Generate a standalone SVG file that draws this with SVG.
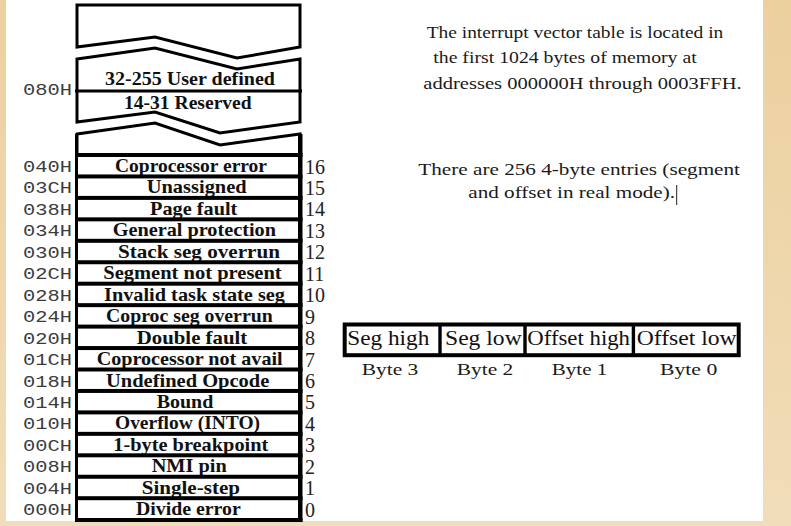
<svg xmlns="http://www.w3.org/2000/svg" width="791" height="526" viewBox="0 0 791 526">
<defs>
<linearGradient id="beige" x1="0" y1="0" x2="0" y2="1">
<stop offset="0" stop-color="#ecd09e"/>
<stop offset="1" stop-color="#f1ddb9"/>
</linearGradient>
<style>
.addr{font-family:"Liberation Mono",monospace;font-size:17px;fill:#3c3c3c}
.lbl{font-family:"Liberation Serif",serif;font-weight:bold;font-size:19px;fill:#111}
.num{font-family:"Liberation Serif",serif;font-size:20px;fill:#222}
.txt{font-family:"Liberation Serif",serif;font-size:17px;fill:#1a1a1a}
.cell{font-family:"Liberation Serif",serif;font-size:20px;fill:#111}
.zig{fill:#fff;stroke:#000;stroke-width:3;stroke-linejoin:miter}
.bar{fill:#000}
</style>
</defs>
<rect x="0" y="0" width="791" height="526" fill="url(#beige)"/>
<rect x="6" y="0" width="757" height="521" fill="#fff"/>

<g id="frame">
<path class="zig" stroke-width="4" d="M77,47 L77,5 L300,5 L300,47 L237,58 L155,37 Z"/>
<path class="zig" d="M77,59 L155,48 L237,69 L300,59 L300,122 L220,133 L155,112 L77,122 Z"/>
<rect x="75" y="89.5" width="227" height="3" class="bar"/>
<path class="zig" d="M77,134 L155,123 L220,145 L300,134 L300,155 L77,155 Z"/>
<rect x="75" y="134" width="3" height="388" class="bar"/>
<rect x="298" y="134" width="4.5" height="388" class="bar"/>
</g>

<g id="upper">
<text class="addr" x="23" y="95" textLength="49" lengthAdjust="spacingAndGlyphs">080H</text>
<text class="lbl" x="105" y="85" textLength="170" lengthAdjust="spacingAndGlyphs">32-255 User defined</text>
<text class="lbl" x="124" y="109.3" textLength="127.7" lengthAdjust="spacingAndGlyphs">14-31 Reserved</text>
</g>

<g id="r16"><text class="addr" x="23" y="172" textLength="49" lengthAdjust="spacingAndGlyphs">040H</text><text class="lbl" x="115" y="172" textLength="152" lengthAdjust="spacingAndGlyphs">Coprocessor error</text><text class="num" x="305" y="173.5">16</text></g>
<g id="r15"><text class="addr" x="23" y="193.45" textLength="49" lengthAdjust="spacingAndGlyphs">03CH</text><text class="lbl" x="146.7" y="193.45" textLength="100" lengthAdjust="spacingAndGlyphs">Unassigned</text><text class="num" x="305" y="194.95">15</text></g>
<g id="r14"><text class="addr" x="23" y="214.9" textLength="49" lengthAdjust="spacingAndGlyphs">038H</text><text class="lbl" x="150" y="214.9" textLength="87.3" lengthAdjust="spacingAndGlyphs">Page fault</text><text class="num" x="305" y="216.4">14</text></g>
<g id="r13"><text class="addr" x="23" y="236.35" textLength="49" lengthAdjust="spacingAndGlyphs">034H</text><text class="lbl" x="112.7" y="236.35" textLength="163.3" lengthAdjust="spacingAndGlyphs">General protection</text><text class="num" x="305" y="237.85">13</text></g>
<g id="r12"><text class="addr" x="23" y="257.8" textLength="49" lengthAdjust="spacingAndGlyphs">030H</text><text class="lbl" x="118" y="257.8" textLength="162" lengthAdjust="spacingAndGlyphs">Stack seg overrun</text><text class="num" x="305" y="259.3">12</text></g>
<g id="r11"><text class="addr" x="23" y="279.25" textLength="49" lengthAdjust="spacingAndGlyphs">02CH</text><text class="lbl" x="103.3" y="279.25" textLength="178.4" lengthAdjust="spacingAndGlyphs">Segment not present</text><text class="num" x="305" y="280.75">11</text></g>
<g id="r10"><text class="addr" x="23" y="300.7" textLength="49" lengthAdjust="spacingAndGlyphs">028H</text><text class="lbl" x="104" y="300.7" textLength="181" lengthAdjust="spacingAndGlyphs">Invalid task state seg</text><text class="num" x="305" y="302.2">10</text></g>
<g id="r9"><text class="addr" x="23" y="322.15" textLength="49" lengthAdjust="spacingAndGlyphs">024H</text><text class="lbl" x="106" y="322.15" textLength="166.7" lengthAdjust="spacingAndGlyphs">Coproc seg overrun</text><text class="num" x="305" y="323.65">9</text></g>
<g id="r8"><text class="addr" x="23" y="343.6" textLength="49" lengthAdjust="spacingAndGlyphs">020H</text><text class="lbl" x="136.7" y="343.6" textLength="110.6" lengthAdjust="spacingAndGlyphs">Double fault</text><text class="num" x="305" y="345.1">8</text></g>
<g id="r7"><text class="addr" x="23" y="365.05" textLength="49" lengthAdjust="spacingAndGlyphs">01CH</text><text class="lbl" x="96.7" y="365.05" textLength="186" lengthAdjust="spacingAndGlyphs">Coprocessor not avail</text><text class="num" x="305" y="366.55">7</text></g>
<g id="r6"><text class="addr" x="23" y="386.5" textLength="49" lengthAdjust="spacingAndGlyphs">018H</text><text class="lbl" x="106" y="386.5" textLength="163.3" lengthAdjust="spacingAndGlyphs">Undefined Opcode</text><text class="num" x="305" y="388">6</text></g>
<g id="r5"><text class="addr" x="23" y="407.95" textLength="49" lengthAdjust="spacingAndGlyphs">014H</text><text class="lbl" x="156.7" y="407.95" textLength="56.6" lengthAdjust="spacingAndGlyphs">Bound</text><text class="num" x="305" y="409.45">5</text></g>
<g id="r4"><text class="addr" x="23" y="429.4" textLength="49" lengthAdjust="spacingAndGlyphs">010H</text><text class="lbl" x="115" y="429.4" textLength="145" lengthAdjust="spacingAndGlyphs">Overflow (INTO)</text><text class="num" x="305" y="430.9">4</text></g>
<g id="r3"><text class="addr" x="23" y="450.85" textLength="49" lengthAdjust="spacingAndGlyphs">00CH</text><text class="lbl" x="113.3" y="450.85" textLength="155" lengthAdjust="spacingAndGlyphs">1-byte breakpoint</text><text class="num" x="305" y="452.35">3</text></g>
<g id="r2"><text class="addr" x="23" y="472.3" textLength="49" lengthAdjust="spacingAndGlyphs">008H</text><text class="lbl" x="151.7" y="472.3" textLength="75" lengthAdjust="spacingAndGlyphs">NMI pin</text><text class="num" x="305" y="473.8">2</text></g>
<g id="r1"><text class="addr" x="23" y="493.75" textLength="49" lengthAdjust="spacingAndGlyphs">004H</text><text class="lbl" x="141.7" y="493.75" textLength="98.3" lengthAdjust="spacingAndGlyphs">Single-step</text><text class="num" x="305" y="495.25">1</text></g>
<g id="r0"><text class="addr" x="23" y="515.2" textLength="49" lengthAdjust="spacingAndGlyphs">000H</text><text class="lbl" x="136" y="515.2" textLength="104.7" lengthAdjust="spacingAndGlyphs">Divide error</text><text class="num" x="305" y="516.7">0</text></g>

<g id="separators" class="bar">
<rect x="75" y="153" width="227.5" height="4"/>
<rect x="75" y="174.45" width="227.5" height="4"/>
<rect x="75" y="195.9" width="227.5" height="4"/>
<rect x="75" y="217.35" width="227.5" height="4"/>
<rect x="75" y="238.8" width="227.5" height="4"/>
<rect x="75" y="260.25" width="227.5" height="4"/>
<rect x="75" y="281.7" width="227.5" height="4"/>
<rect x="75" y="303.15" width="227.5" height="4"/>
<rect x="75" y="324.6" width="227.5" height="4"/>
<rect x="75" y="346.05" width="227.5" height="4"/>
<rect x="75" y="367.5" width="227.5" height="4"/>
<rect x="75" y="388.95" width="227.5" height="4"/>
<rect x="75" y="410.4" width="227.5" height="4"/>
<rect x="75" y="431.85" width="227.5" height="4"/>
<rect x="75" y="453.3" width="227.5" height="4"/>
<rect x="75" y="474.75" width="227.5" height="4"/>
<rect x="75" y="496.2" width="227.5" height="4"/>
<rect x="75" y="518" width="227.5" height="4"/>
</g>

<g id="note1">
<text class="txt" x="426.7" y="37.5" textLength="296.6" lengthAdjust="spacingAndGlyphs">The interrupt vector table is located in</text>
<text class="txt" x="433.3" y="63" textLength="263.4" lengthAdjust="spacingAndGlyphs">the first 1024 bytes of memory at</text>
<text class="txt" x="423.3" y="88.5" textLength="318.4" lengthAdjust="spacingAndGlyphs">addresses 000000H through 0003FFH.</text>
</g>

<g id="note2">
<text class="txt" x="418.3" y="175" textLength="321.7" lengthAdjust="spacingAndGlyphs">There are 256 4-byte entries (segment</text>
<text class="txt" x="468.3" y="198.3" textLength="206.7" lengthAdjust="spacingAndGlyphs">and offset in real mode).</text>
<line x1="676.7" y1="185" x2="676.7" y2="205" stroke="#222" stroke-width="1"/>
</g>

<g id="entry">
<rect x="344.7" y="324.5" width="394" height="30.7" fill="#fff" stroke="#000" stroke-width="4"/>
<rect x="438.3" y="324" width="3.4" height="32" class="bar"/>
<rect x="523.3" y="324" width="3.4" height="32" class="bar"/>
<rect x="631.7" y="324" width="3.4" height="32" class="bar"/>
<text class="cell" x="347.3" y="345" textLength="82" lengthAdjust="spacingAndGlyphs">Seg high</text>
<text class="cell" x="445" y="345" textLength="76.7" lengthAdjust="spacingAndGlyphs">Seg low</text>
<text class="cell" x="527.3" y="345" textLength="102.7" lengthAdjust="spacingAndGlyphs">Offset high</text>
<text class="cell" x="636.7" y="345" textLength="100" lengthAdjust="spacingAndGlyphs">Offset low</text>
<text class="txt" x="361.7" y="375" font-size="18" textLength="56.6" lengthAdjust="spacingAndGlyphs">Byte 3</text>
<text class="txt" x="456.7" y="375" font-size="18" textLength="56.6" lengthAdjust="spacingAndGlyphs">Byte 2</text>
<text class="txt" x="551.7" y="375" font-size="18" textLength="55.6" lengthAdjust="spacingAndGlyphs">Byte 1</text>
<text class="txt" x="660" y="375" font-size="18" textLength="57.3" lengthAdjust="spacingAndGlyphs">Byte 0</text>
</g>
</svg>
